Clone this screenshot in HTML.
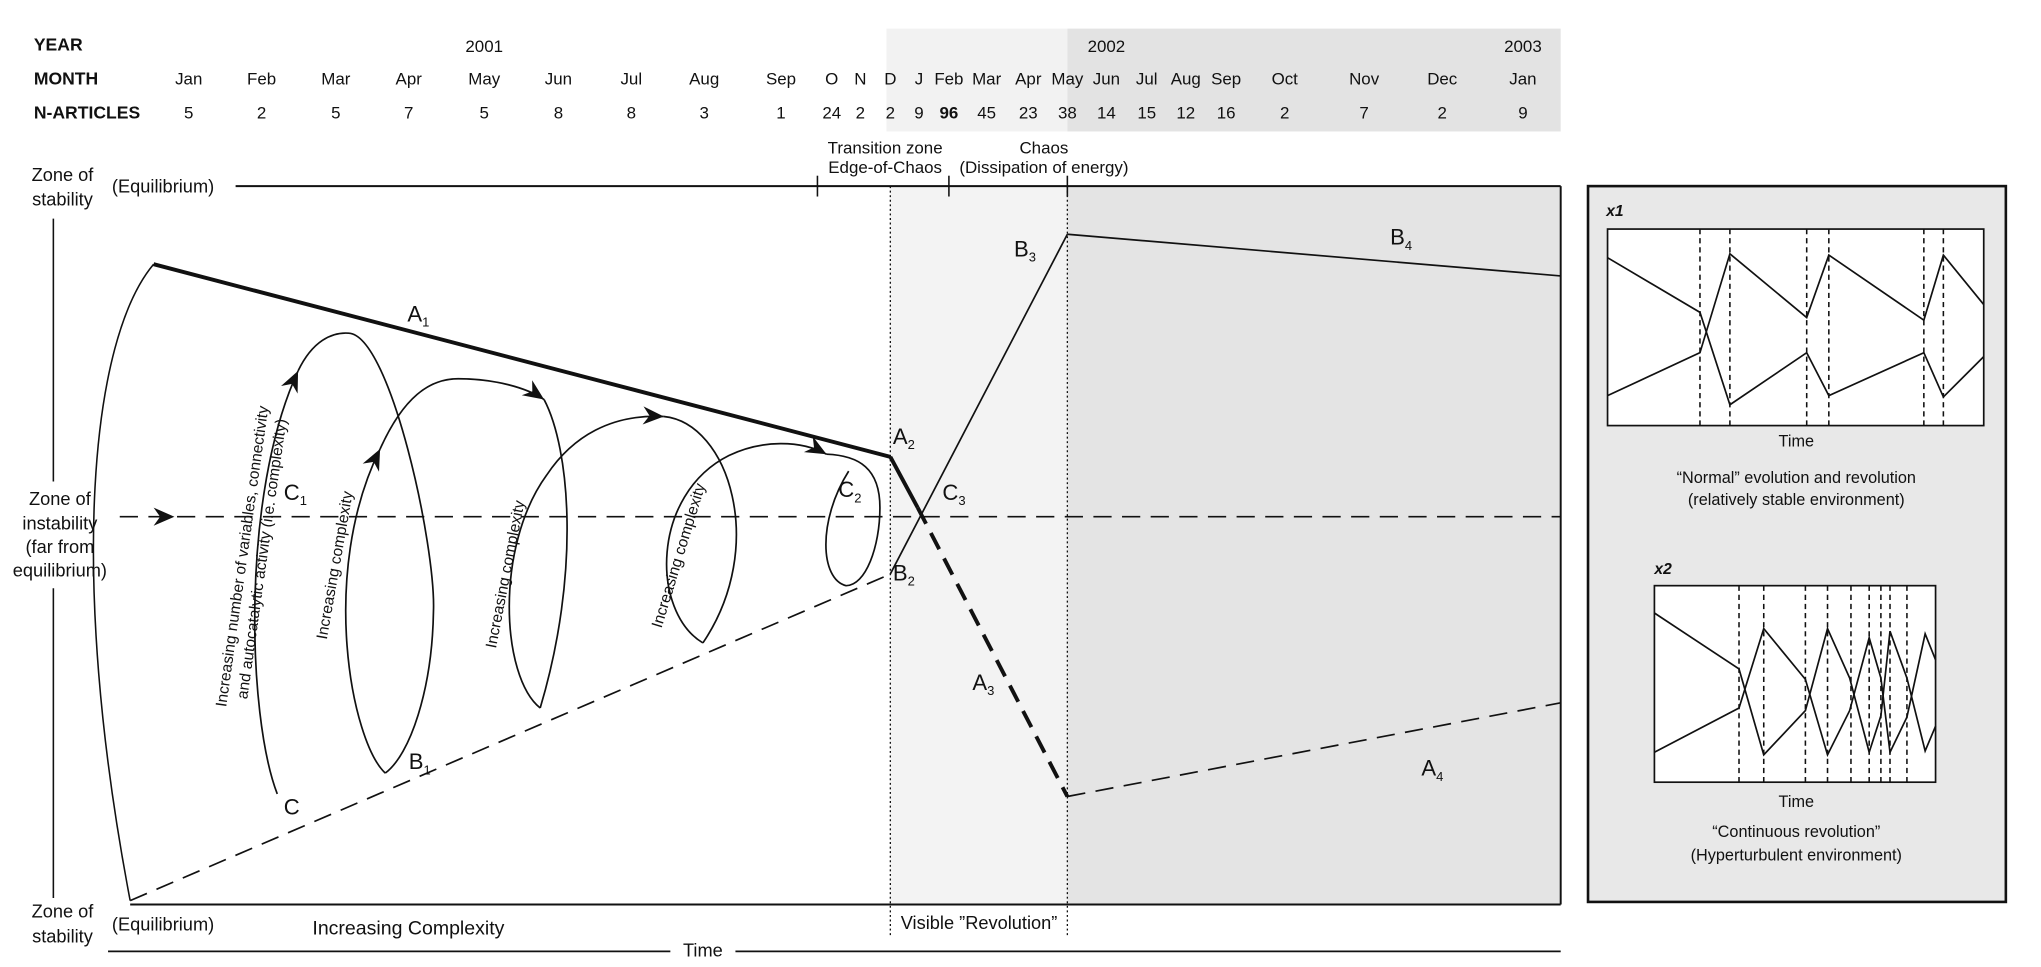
<!DOCTYPE html>
<html><head><meta charset="utf-8"><style>
html,body{margin:0;padding:0;background:#fff;}
svg{display:block;}
text{font-family:"Liberation Sans Narrow","Liberation Sans",sans-serif;fill:#111;}
.h{font-size:13px;text-anchor:middle;}
.hb{font-size:13.5px;font-weight:bold;}
.l{font-size:17px;}
.s{font-size:10px;}
.p{font-family:"Liberation Sans",sans-serif;font-size:12.5px;text-anchor:middle;}
.r{font-family:"Liberation Sans",sans-serif;font-size:12px;}
</style></head><body>
<svg width="2041" height="967" viewBox="0 0 1568 743" preserveAspectRatio="none" xmlns="http://www.w3.org/2000/svg">
<defs>
<marker id="ah" viewBox="-17 -8 18 16" refX="0" refY="0" markerWidth="18" markerHeight="16" markerUnits="userSpaceOnUse" orient="auto">
<path d="M0,0 L-16,-7 L-11,0 L-16,7 Z" fill="#111"/>
</marker>
</defs>
<!-- header backgrounds -->
<rect x="681" y="22" width="139" height="79" fill="#f2f2f2"/>
<rect x="820" y="22" width="379" height="79" fill="#e3e3e3"/>
<text class="hb" x="26" y="39">YEAR</text>
<text class="hb" x="26" y="65">MONTH</text>
<text class="hb" x="26" y="91">N-ARTICLES</text>
<text class="h" x="372" y="40">2001</text>
<text class="h" x="850" y="40">2002</text>
<text class="h" x="1170" y="40">2003</text>
<g class="h">
<text class="h" x="145" y="65">Jan</text><text class="h" x="201" y="65">Feb</text><text class="h" x="258" y="65">Mar</text><text class="h" x="314" y="65">Apr</text><text class="h" x="372" y="65">May</text><text class="h" x="429" y="65">Jun</text><text class="h" x="485" y="65">Jul</text><text class="h" x="541" y="65">Aug</text><text class="h" x="600" y="65">Sep</text><text class="h" x="639" y="65">O</text><text class="h" x="661" y="65">N</text><text class="h" x="684" y="65">D</text><text class="h" x="706" y="65">J</text><text class="h" x="729" y="65">Feb</text><text class="h" x="758" y="65">Mar</text><text class="h" x="790" y="65">Apr</text><text class="h" x="820" y="65">May</text><text class="h" x="850" y="65">Jun</text><text class="h" x="881" y="65">Jul</text><text class="h" x="911" y="65">Aug</text><text class="h" x="942" y="65">Sep</text><text class="h" x="987" y="65">Oct</text><text class="h" x="1048" y="65">Nov</text><text class="h" x="1108" y="65">Dec</text><text class="h" x="1170" y="65">Jan</text>
<text class="h" x="145" y="91">5</text><text class="h" x="201" y="91">2</text><text class="h" x="258" y="91">5</text><text class="h" x="314" y="91">7</text><text class="h" x="372" y="91">5</text><text class="h" x="429" y="91">8</text><text class="h" x="485" y="91">8</text><text class="h" x="541" y="91">3</text><text class="h" x="600" y="91">1</text><text class="h" x="639" y="91">24</text><text class="h" x="661" y="91">2</text><text class="h" x="684" y="91">2</text><text class="h" x="706" y="91">9</text><text class="h" x="729" y="91" font-weight="bold">96</text><text class="h" x="758" y="91">45</text><text class="h" x="790" y="91">23</text><text class="h" x="820" y="91">38</text><text class="h" x="850" y="91">14</text><text class="h" x="881" y="91">15</text><text class="h" x="911" y="91">12</text><text class="h" x="942" y="91">16</text><text class="h" x="987" y="91">2</text><text class="h" x="1048" y="91">7</text><text class="h" x="1108" y="91">2</text><text class="h" x="1170" y="91">9</text>
</g>
<text class="h" x="680" y="118">Transition zone</text>
<text class="h" x="680" y="133">Edge-of-Chaos</text>
<text class="h" x="802" y="118">Chaos</text>
<text class="h" x="802" y="133">(Dissipation of energy)</text>

<!-- main shaded areas -->
<rect x="684" y="143" width="136" height="552" fill="#f3f3f3"/>
<rect x="820" y="143" width="379" height="552" fill="#e4e4e4"/>
<line x1="181" y1="143" x2="1199" y2="143" stroke="#111" stroke-width="1.5"/>
<line x1="1199" y1="143" x2="1199" y2="695" stroke="#111" stroke-width="1.5"/>
<line x1="628" y1="135" x2="628" y2="151" stroke="#111" stroke-width="1.2"/>
<line x1="729" y1="135" x2="729" y2="151" stroke="#111" stroke-width="1.2"/>
<line x1="820" y1="135" x2="820" y2="151" stroke="#111" stroke-width="1.2"/>
<line x1="684" y1="143" x2="684" y2="720" stroke="#111" stroke-width="1" stroke-dasharray="1.5,2"/>
<line x1="820" y1="143" x2="820" y2="720" stroke="#111" stroke-width="1" stroke-dasharray="1.5,2"/>
<line x1="100" y1="695" x2="1199" y2="695" stroke="#111" stroke-width="1.5"/>
<line x1="83" y1="731" x2="515" y2="731" stroke="#111" stroke-width="1.3"/>
<line x1="565" y1="731" x2="1199" y2="731" stroke="#111" stroke-width="1.3"/>
<text class="h" x="540" y="735" style="font-size:14px">Time</text>
<text class="l" x="692" y="714" style="font-size:14px">Visible ”Revolution”</text>
<text class="l" x="240" y="718" style="font-size:15px">Increasing Complexity</text>

<!-- left labels -->
<text class="h" x="48" y="139" style="font-size:14px">Zone of</text>
<text class="h" x="48" y="158" style="font-size:14px">stability</text>
<text x="86" y="148" style="font-size:14px">(Equilibrium)</text>
<line x1="41" y1="168" x2="41" y2="370" stroke="#111" stroke-width="1.2"/>
<line x1="41" y1="452" x2="41" y2="690" stroke="#111" stroke-width="1.2"/>
<text class="h" x="46" y="388" style="font-size:14px">Zone of</text>
<text class="h" x="46" y="407" style="font-size:14px">instability</text>
<text class="h" x="46" y="425" style="font-size:14px">(far from</text>
<text class="h" x="46" y="443" style="font-size:14px">equilibrium)</text>
<text class="h" x="48" y="705" style="font-size:14px">Zone of</text>
<text class="h" x="48" y="724" style="font-size:14px">stability</text>
<text x="86" y="715" style="font-size:14px">(Equilibrium)</text>

<!-- dashed center line -->
<line x1="92" y1="397" x2="1199" y2="397" stroke="#111" stroke-width="1.2" stroke-dasharray="14,8"/>
<path d="M0,0 L-16,-7 L-11,0 L-16,7 Z" fill="#111" transform="translate(134,397)"/>

<!-- left arc -->
<path d="M118,203 C70,260 52,440 100,692" fill="none" stroke="#111" stroke-width="1.2"/>
<!-- A lines -->
<line x1="118" y1="203" x2="684" y2="351" stroke="#111" stroke-width="3"/>
<line x1="684" y1="351" x2="705" y2="390" stroke="#111" stroke-width="3"/>
<line x1="705" y1="390" x2="820" y2="612" stroke="#111" stroke-width="3" stroke-dasharray="14,8"/>
<line x1="820" y1="612" x2="1199" y2="540" stroke="#111" stroke-width="1.3" stroke-dasharray="14,8"/>
<!-- B lines -->
<line x1="100" y1="692" x2="682" y2="442" stroke="#111" stroke-width="1.3" stroke-dasharray="14,8"/>
<line x1="684" y1="441" x2="820" y2="180" stroke="#111" stroke-width="1.3"/>
<line x1="820" y1="180" x2="1199" y2="212" stroke="#111" stroke-width="1.3"/>

<!-- spiral -->
<g fill="none" stroke="#111" stroke-width="1.3">
<path d="M213,610 C190,550 185,380 229,285" marker-end="url(#ah)"/>
<path d="M229,285 C240,262 255,255 268,256 C300,258 335,420 333,470 C332,530 315,580 296,594"/>
<path d="M296,594 C270,570 245,440 292,345" marker-end="url(#ah)"/>
<path d="M292,345 C310,305 330,291 352,291 C380,291 405,298 418,307" marker-end="url(#ah)"/>
<path d="M418,307 C438,345 446,440 415,544"/>
<path d="M415,544 C385,520 380,420 420,365 C440,335 470,318 510,320" marker-end="url(#ah)"/>
<path d="M510,320 C560,325 590,420 540,494"/>
<path d="M540,494 C500,470 500,380 560,350 C585,338 615,338 635,349" marker-end="url(#ah)"/>
<path d="M635,349 C660,350 676,360 676,390 C676,420 665,450 650,450 C630,445 628,400 652,362"/>
</g>

<!-- rotated labels -->
<text class="r" transform="translate(190,428) rotate(-82)" text-anchor="middle">Increasing number of variables, connectivity</text>
<text class="r" transform="translate(205,430) rotate(-82)" text-anchor="middle">and autocatalytic activity (i.e. complexity)</text>
<text class="r" transform="translate(261,435) rotate(-80)" text-anchor="middle">Increasing complexity</text>
<text class="r" transform="translate(392,442) rotate(-79)" text-anchor="middle">Increasing complexity</text>
<text class="r" transform="translate(525,428) rotate(-73)" text-anchor="middle">Increasing complexity</text>

<!-- point labels -->
<text class="l" x="313" y="247">A<tspan class="s" dy="4">1</tspan></text>
<text class="l" x="686" y="341">A<tspan class="s" dy="4">2</tspan></text>
<text class="l" x="747" y="530">A<tspan class="s" dy="4">3</tspan></text>
<text class="l" x="1092" y="596">A<tspan class="s" dy="4">4</tspan></text>
<text class="l" x="686" y="446">B<tspan class="s" dy="4">2</tspan></text>
<text class="l" x="779" y="197">B<tspan class="s" dy="4">3</tspan></text>
<text class="l" x="1068" y="188">B<tspan class="s" dy="4">4</tspan></text>
<text class="l" x="314" y="591">B<tspan class="s" dy="4">1</tspan></text>
<text class="l" x="218" y="384">C<tspan class="s" dy="4">1</tspan></text>
<text class="l" x="644" y="382">C<tspan class="s" dy="4">2</tspan></text>
<text class="l" x="724" y="384">C<tspan class="s" dy="4">3</tspan></text>
<text class="l" x="218" y="626">C</text>

<!-- right panel -->
<rect x="1220" y="143" width="321" height="550" fill="#e8e8e8" stroke="#111" stroke-width="2"/>
<text x="1234" y="166" style="font-family:'Liberation Sans',sans-serif;font-size:12px;font-style:italic;font-weight:bold">x1</text>
<rect x="1235" y="176" width="289" height="151" fill="#fff" stroke="#111" stroke-width="1.3"/>
<g stroke="#111" stroke-width="1.2" stroke-dasharray="4,3">
<line x1="1306" y1="176" x2="1306" y2="327"/><line x1="1329" y1="176" x2="1329" y2="327"/>
<line x1="1388" y1="176" x2="1388" y2="327"/><line x1="1405" y1="176" x2="1405" y2="327"/>
<line x1="1478" y1="176" x2="1478" y2="327"/><line x1="1493" y1="176" x2="1493" y2="327"/>
</g>
<polyline points="1235,198 1306,240 1329,311 1388,271 1405,304 1478,271 1493,305 1524,274" fill="none" stroke="#111" stroke-width="1.3"/>
<polyline points="1235,304 1306,271 1329,195 1388,244 1405,196 1478,246 1493,196 1524,234" fill="none" stroke="#111" stroke-width="1.3"/>
<text class="p" x="1380" y="343">Time</text>
<text class="p" x="1380" y="371">“Normal” evolution and revolution</text>
<text class="p" x="1380" y="388">(relatively stable environment)</text>

<text x="1271" y="441" style="font-family:'Liberation Sans',sans-serif;font-size:12px;font-style:italic;font-weight:bold">x2</text>
<rect x="1271" y="450" width="216" height="151" fill="#fff" stroke="#111" stroke-width="1.3"/>
<g stroke="#111" stroke-width="1.2" stroke-dasharray="4,3">
<line x1="1336" y1="450" x2="1336" y2="601"/><line x1="1355" y1="450" x2="1355" y2="601"/>
<line x1="1387" y1="450" x2="1387" y2="601"/><line x1="1404" y1="450" x2="1404" y2="601"/>
<line x1="1422" y1="450" x2="1422" y2="601"/><line x1="1436" y1="450" x2="1436" y2="601"/>
<line x1="1445" y1="450" x2="1445" y2="601"/><line x1="1452" y1="450" x2="1452" y2="601"/>
<line x1="1465" y1="450" x2="1465" y2="601"/>
</g>
<polyline points="1271,471 1336,514 1355,580 1387,546 1404,483 1421,521 1436,578 1445,550 1452,485 1465,521 1479,577 1487,558" fill="none" stroke="#111" stroke-width="1.3"/>
<polyline points="1271,578 1336,544 1355,483 1387,522 1404,580 1421,546 1436,490 1445,521 1452,578 1465,551 1479,487 1487,507" fill="none" stroke="#111" stroke-width="1.3"/>
<text class="p" x="1380" y="620">Time</text>
<text class="p" x="1380" y="643">“Continuous revolution”</text>
<text class="p" x="1380" y="661">(Hyperturbulent environment)</text>
</svg>
</body></html>
